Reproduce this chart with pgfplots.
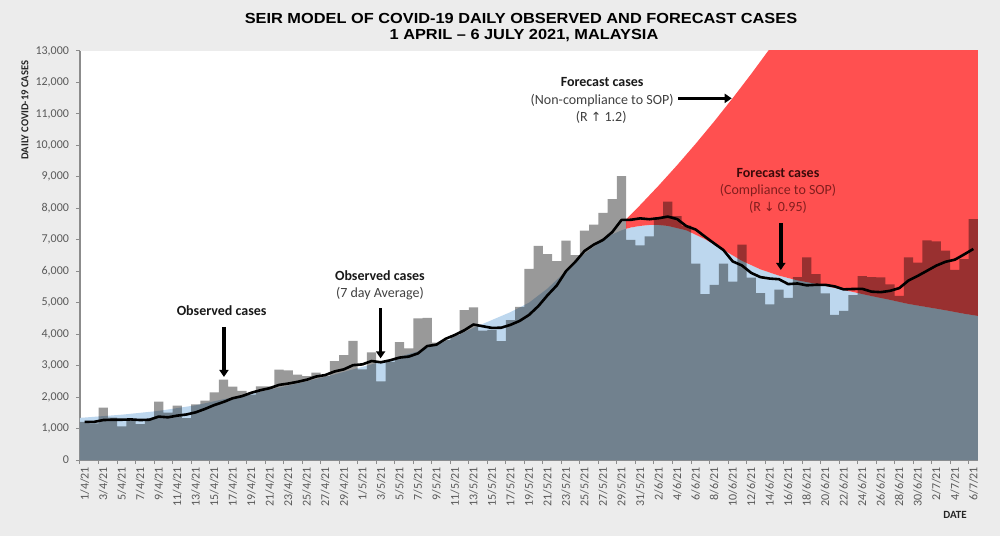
\documentclass[border=0pt]{standalone}
\usepackage{fontspec}
\setmainfont{Carlito}
\newfontfamily\arialfont[Ligatures=TeX]{Liberation Sans}
\newfontfamily\dejavu{DejaVu Sans}
\usepackage{graphicx}
\usepackage{pgfplots}
\pgfplotsset{compat=1.18}
\usetikzlibrary{arrows.meta}
\definecolor{bg}{RGB}{236,236,236}
\definecolor{lblue}{RGB}{189,215,238}
\definecolor{fred}{RGB}{255,80,80}
\definecolor{bargray}{RGB}{153,153,153}
\definecolor{tickgray}{RGB}{89,89,89}
\definecolor{axisgray}{RGB}{140,140,140}
\definecolor{ann}{RGB}{64,64,64}
\definecolor{annred}{RGB}{130,30,30}
\definecolor{annredb}{RGB}{60,10,10}
\begin{document}
\begin{tikzpicture}
\useasboundingbox (0pt,0pt) rectangle (500pt,268pt);
\fill[bg] (0pt,0pt) rectangle (500pt,268pt);
\node[font=\arialfont\bfseries\fontsize{7.3}{8}\selectfont] at (260.5pt,259pt) {\scalebox{1.12}[1]{SEIR MODEL OF COVID-19 DAILY OBSERVED AND FORECAST CASES}};
\node[font=\arialfont\bfseries\fontsize{7.3}{8}\selectfont] at (262pt,250pt) {\scalebox{1.12}[1]{1 APRIL – 6 JULY 2021, MALAYSIA}};
\node[font=\bfseries\fontsize{5.3}{6}\selectfont, rotate=90, text=black!85] at (12.5pt,213pt) {DAILY COVID-19 CASES};
\node[font=\bfseries\fontsize{5.5}{6}\selectfont, text=black!85] at (477.5pt,10.5pt) {DATE};
\begin{axis}[
  at={(40pt,38pt)}, anchor=south west, scale only axis,
  width=449pt, height=204.5pt,
  xmin=-0.5, xmax=96.5, ymin=0, ymax=13000,
  axis background/.style={fill=white},
  axis x line*=bottom, axis y line*=left,
  axis line style={draw=axisgray, line width=0.6pt},
  tick align=outside, major tick length=2pt,
  tick style={draw=axisgray, line width=0.5pt},
  clip mode=individual,
  scaled y ticks=false,
  /pgf/number format/assume math mode=true,
  /pgf/number format/.cd, 1000 sep={,}, /pgfplots/.cd,
  ytick={0,1000,...,13000},
  yticklabel style={font=\fontsize{6}{7}\selectfont, text=tickgray},
  xtick={-0.5,1.5,...,95.5},
  xticklabels={},
  extra x ticks={0,2,...,96},
  extra x tick labels={1/4/21,3/4/21,5/4/21,7/4/21,9/4/21,11/4/21,13/4/21,15/4/21,17/4/21,19/4/21,21/4/21,23/4/21,25/4/21,27/4/21,29/4/21,1/5/21,3/5/21,5/5/21,7/5/21,9/5/21,11/5/21,13/5/21,15/5/21,17/5/21,19/5/21,21/5/21,23/5/21,25/5/21,27/5/21,29/5/21,31/5/21,2/6/21,4/6/21,6/6/21,8/6/21,10/6/21,12/6/21,14/6/21,16/6/21,18/6/21,20/6/21,22/6/21,24/6/21,26/6/21,28/6/21,30/6/21,2/7/21,4/7/21,6/7/21},
  extra x tick style={major tick length=0pt},
  xticklabel style={rotate=90, anchor=east, font=\fontsize{6}{7}\selectfont, text=tickgray},
]
% compliance forecast / SEIR fit (light blue area)
\addplot[fill=lblue, draw=none, forget plot] coordinates {
(-0.5,0) (-0.5,1340) (0,1350) (4,1440) (8,1560) (12,1740) (15,1930) (18,2110) (21,2300) (24,2500) (27,2720) (30,2960) (33,3200) (36,3450) (39,3780) (42,4200) (44,4450) (46,4700) (48,5000) (50,5450) (52,6000) (54,6550) (56,7000) (57,7170) (58,7300) (58.5,7350) (59,7390) (60,7440) (61,7470) (62,7470) (63,7440) (65,7300) (67,7020) (69,6680) (71,6330) (73,6060) (75,5860) (77,5710) (79,5600) (81,5470) (83,5340) (85,5210) (87,5090) (89,4960) (91,4860) (93,4760) (95,4650) (96.5,4580) (96.5,0)} -- cycle;
% non-compliance forecast (red area)
\addplot[fill=fred, draw=none, forget plot] coordinates {
(58.5,7650) (60,8100) (62,8720) (64,9370) (66,10050) (68,10760) (70,11500) (72,12270) (74,13070) (76,13900) (80,15600) (96.5,23000)
(96.5,4580) (95,4650) (93,4760) (91,4860) (89,4960) (87,5090) (85,5210) (83,5340) (81,5470) (79,5600) (77,5710) (75,5860) (73,6060) (71,6330) (69,6680) (67,7020) (65,7300) (63,7440) (62,7470) (61,7470) (60,7440) (59,7390) (58.5,7350)} -- cycle;
% observed daily cases
\addplot[ybar, bar width=1, fill=bargray, draw=none, blend mode=multiply, forget plot] coordinates {
(0,1208) (1,1162) (2,1668) (3,1349) (4,1070) (5,1291) (6,1139) (7,1285) (8,1854) (9,1508)
(10,1726) (11,1329) (12,1767) (13,1889) (14,2148) (15,2551) (16,2331) (17,2195) (18,2078) (19,2341)
(20,2340) (21,2875) (22,2847) (23,2717) (24,2668) (25,2776) (26,2683) (27,3142) (28,3332) (29,3788)
(30,2881) (31,3418) (32,2500) (33,3120) (34,3744) (35,3551) (36,4498) (37,4519) (38,3733) (39,3807)
(40,3973) (41,4765) (42,4855) (43,4113) (44,4140) (45,3780) (46,4446) (47,4865) (48,6075) (49,6806)
(50,6541) (51,6320) (52,6976) (53,6509) (54,7289) (55,7478) (56,7857) (57,8290) (58,9020) (59,6999)
(60,6824) (61,7105) (62,7703) (63,8209) (64,7748) (65,7452) (66,6241) (67,5271) (68,5566) (69,6239)
(70,5671) (71,6849) (72,5793) (73,5304) (74,4949) (75,5419) (76,5150) (77,5812) (78,6440) (79,5911)
(80,5293) (81,4611) (82,4743) (83,5244) (84,5841) (85,5812) (86,5803) (87,5586) (88,5218) (89,6437)
(90,6276) (91,6982) (92,6951) (93,6658) (94,6045) (95,6387) (96,7654)};
% 7-day average
\addplot[black, line width=1.3pt, line join=round, forget plot] coordinates {
(0,1210) (1,1210) (2,1270) (3,1280) (4,1280) (5,1290) (6,1270) (7,1281) (8,1379) (9,1357)
(10,1410) (11,1447) (12,1515) (13,1623) (14,1746) (15,1845) (16,1963) (17,2030) (18,2137) (19,2219)
(20,2283) (21,2387) (22,2430) (23,2485) (24,2552) (25,2652) (26,2701) (27,2815) (28,2881) (29,3015)
(30,3039) (31,3146) (32,3106) (33,3169) (34,3255) (35,3286) (36,3387) (37,3621) (38,3666) (39,3853)
(40,3975) (41,4121) (42,4307) (43,4252) (44,4198) (45,4205) (46,4296) (47,4423) (48,4611) (49,4889)
(50,5236) (51,5548) (52,6004) (53,6299) (54,6645) (55,6846) (56,6996) (57,7246) (58,7631) (59,7635)
(60,7680) (61,7653) (62,7685) (63,7736) (64,7658) (65,7434) (66,7326) (67,7104) (68,6884) (69,6675)
(70,6313) (71,6184) (72,5947) (73,5813) (74,5767) (75,5746) (76,5591) (77,5611) (78,5552) (79,5569)
(80,5568) (81,5519) (82,5423) (83,5436) (84,5440) (85,5351) (86,5335) (87,5377) (88,5464) (89,5706)
(90,5853) (91,6016) (92,6179) (93,6301) (94,6367) (95,6534) (96,6708)};
% annotations
\node[font=\bfseries\fontsize{7}{8}\selectfont, text=black!90] at (axis cs:14.8,4750) {Observed cases};
\draw[-{Triangle[length=3.5pt,width=4.5pt]}, line width=1.8pt] (axis cs:15.05,4230) -- (axis cs:15.05,2640);
\node[font=\bfseries\fontsize{7}{8}\selectfont, text=black!90] at (axis cs:31.9,5850) {Observed cases};
\node[font=\fontsize{7}{8}\selectfont, text=ann] at (axis cs:31.9,5275) {(7 day Average)};
\draw[-{Triangle[length=3.5pt,width=4.5pt]}, line width=1.8pt] (axis cs:31.97,4820) -- (axis cs:31.97,3230);
\node[font=\bfseries\fontsize{7}{8}\selectfont, text=black!90] at (axis cs:55.9,12010) {Forecast cases};
\node[font=\fontsize{7}{8}\selectfont, text=ann] at (axis cs:55.9,11440) {(Non-compliance to SOP)};
\node[font=\fontsize{7}{8}\selectfont, text=ann] at (axis cs:55.8,10900) {(R {\dejavu\fontsize{6.3}{7}\selectfont ↑} 1.2)};
\draw[-{Triangle[length=3.5pt,width=4.5pt]}, line width=1.8pt] (axis cs:64.1,11495) -- (axis cs:69.9,11495);
\node[font=\bfseries\fontsize{7}{8}\selectfont, text=annredb] at (axis cs:74.9,9130) {Forecast cases};
\node[font=\fontsize{7}{8}\selectfont, text=annred] at (axis cs:74.9,8580) {(Compliance to SOP)};
\node[font=\fontsize{7}{8}\selectfont, text=annred] at (axis cs:74.9,8030) {(R {\dejavu\fontsize{6.3}{7}\selectfont ↓} 0.95)};
\draw[-{Triangle[length=3.5pt,width=4.5pt]}, line width=1.8pt] (axis cs:75.2,7540) -- (axis cs:75.2,6040);
\end{axis}
\end{tikzpicture}
\end{document}
